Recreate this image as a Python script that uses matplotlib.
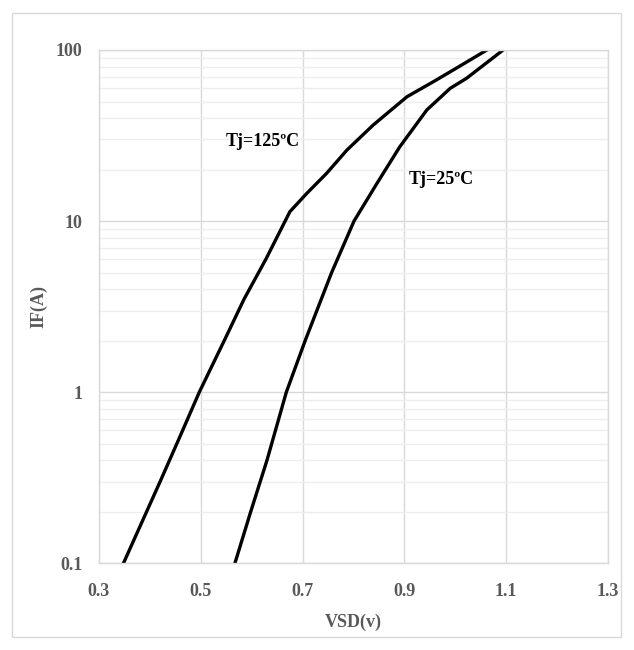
import matplotlib.pyplot as plt
from matplotlib.patches import Rectangle
from matplotlib.ticker import FixedLocator, LogLocator, NullFormatter

# forward characteristic
vsd_125 = [0.348, 0.420, 0.459, 0.497, 0.546, 0.585, 0.628, 0.675, 0.708,
           0.747, 0.787, 0.839, 0.905, 0.957, 0.996, 1.062]
if_125 = [0.1, 0.3, 0.55, 1.0, 2.0, 3.5, 6.0, 11.35, 14.5,
          19.0, 26.0, 36.5, 53.3, 65.3, 76.4, 100]

vsd_25 = [0.567, 0.598, 0.630, 0.668, 0.705, 0.757, 0.801, 0.846, 0.891,
          0.944, 0.990, 1.022, 1.094]
if_25 = [0.1, 0.2, 0.4, 1.0, 2.0, 5.0, 10.0, 16.6, 27.2,
         44.6, 59.7, 68.3, 100]

x_ticks = [0.3, 0.5, 0.7, 0.9, 1.1, 1.3]
x_labels = ["0.3", "0.5", "0.7", "0.9", "1.1", "1.3"]
y_ticks = [0.1, 1, 10, 100]
y_labels = ["0.1", "1", "10", "100"]

plt.rcParams["font.family"] = ["Liberation Serif", "DejaVu Serif"]
plt.rcParams["font.weight"] = "bold"

fig = plt.figure(figsize=(6.34, 6.5), dpi=100)
fig.patches.append(Rectangle((12 / 634, 13 / 650), 609 / 634, 624 / 650,
                             transform=fig.transFigure, fill=False,
                             edgecolor="#d9d9d9", linewidth=1.0))

ax = fig.add_axes([99 / 634, 1 - 563.3 / 650, 509 / 634, 513.3 / 650])
ax.set_yscale("log")
ax.set_xlim(0.3, 1.3)
ax.set_ylim(0.1, 100)

ax.xaxis.set_major_locator(FixedLocator(x_ticks))
ax.set_xticklabels(x_labels)
ax.yaxis.set_major_locator(FixedLocator(y_ticks))
ax.set_yticklabels(y_labels)
ax.yaxis.set_minor_locator(LogLocator(base=10, subs=range(2, 10)))
ax.yaxis.set_minor_formatter(NullFormatter())

ax.grid(True, which="major", color="#d9d9d9", linewidth=1.0)
ax.grid(True, which="minor", axis="y", color="#eeeeee", linewidth=1.0)
ax.set_axisbelow(True)
for s in ax.spines.values():
    s.set_color("#d9d9d9")
    s.set_linewidth(1.0)

ax.tick_params(axis="both", which="both", length=0, labelsize=13,
               labelcolor="#595959")
ax.tick_params(axis="x", pad=14)
ax.tick_params(axis="y", pad=12)

ax.plot(vsd_125, if_125, color="black", linewidth=2.4, solid_joinstyle="round")
ax.plot(vsd_25, if_25, color="black", linewidth=2.4, solid_joinstyle="round")

ax.text(0.548, 29.1, "Tj=125ºC", fontsize=13, fontweight="bold",
        color="black", va="center", ha="left")
ax.text(0.908, 17.5, "Tj=25ºC", fontsize=13, fontweight="bold",
        color="black", va="center", ha="left")

ax.set_xlabel("VSD(v)", fontsize=13, fontweight="bold", color="#595959", labelpad=10)
ax.set_ylabel("IF(A)", fontsize=13, fontweight="bold", color="#595959", labelpad=6)

fig.savefig("out.png", dpi=100, facecolor="white")
